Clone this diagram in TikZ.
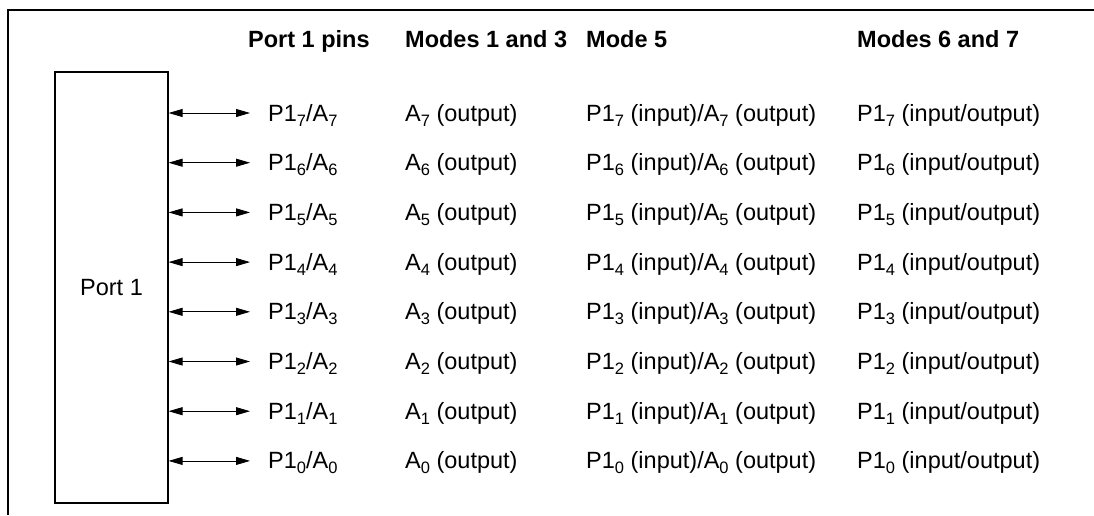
\documentclass[tikz,border=0pt]{standalone}
\usepackage{fontspec}
\setmainfont{Liberation Sans}
\usetikzlibrary{arrows.meta,positioning}
\newcommand{\pinsub}[1]{\raisebox{-5pt}{\fontsize{16.5}{16.5}\selectfont #1}}

\begin{document}
\begin{tikzpicture}[x=1pt,y=-1pt,
  every node/.style={font=\fontsize{23.5}{28}\selectfont, inner sep=0pt},
  head/.style={anchor=base west, font=\fontsize{23.5}{28}\selectfont\bfseries},
  cell/.style={anchor=base west},
  pinarrow/.style={{Triangle[length=14pt,width=8pt]}-{Triangle[length=14pt,width=8pt]}, line width=0.8pt}]
\useasboundingbox (0,0) rectangle (1094,515);
% page frame
\draw[line width=2pt] (8,515)--(8,10)--(1094,10);
% the port block
\node[draw, line width=1.2pt, minimum width=113pt, minimum height=431pt] (port) at (111.5,287.5) {Port 1};
% column heads
\node[head] (hpins) at (248,47) {Port 1 pins};
\node[head] (hmodea) at (405,47) {Modes 1 and 3};
\node[head] (hmodeb) at (586,47) {Mode 5};
\node[head] (hmodec) at (857,47) {Modes 6 and 7};
% one row per pin
\foreach \b [count=\r from 0] in {7,6,...,0}{
  \coordinate (pinend\b) at (250,113+49.7*\r);
  \draw[pinarrow] (port.east |- pinend\b) -- (pinend\b);
  \node[cell] (pin\b) at (268,121+49.7*\r) {P1\pinsub{\b}/A\pinsub{\b}};
  \node[cell] (moda\b) at (405,121+49.7*\r) {A\pinsub{\b} (output)};
  \node[cell] (modb\b) at (586,121+49.7*\r) {P1\pinsub{\b} (input)/A\pinsub{\b} (output)};
  \node[cell] (modc\b) at (857,121+49.7*\r) {P1\pinsub{\b} (input/output)};
}
\end{tikzpicture}
\end{document}
